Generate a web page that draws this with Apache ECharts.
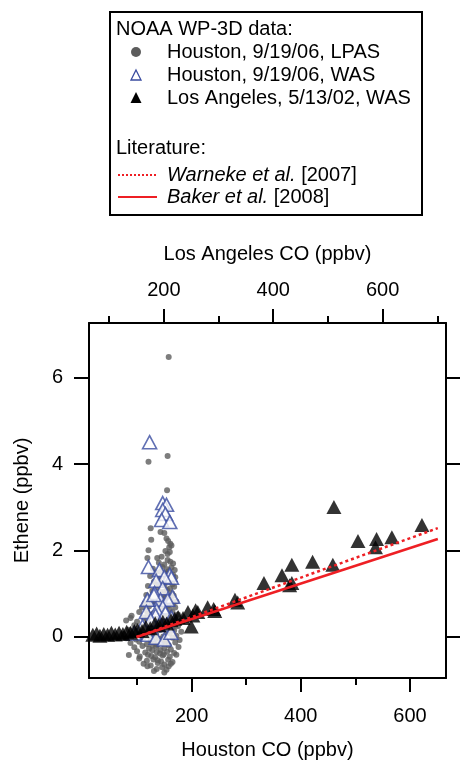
<!DOCTYPE html>
<html><head><meta charset="utf-8">
<script src="https://cdn.jsdelivr.net/npm/echarts@6/dist/echarts.min.js"></script>
<style>html,body{margin:0;padding:0;background:#fff}#c{width:463px;height:761px}</style>
</head><body><div id="c"></div>
<script>
// ---- axis tick values ----
const houstonMajorTicks = [200, 400, 600];
const houstonMinorTicks = [100, 300, 500];
const laMajorTicks = [200, 400, 600];
const laMinorTicks = [100, 300, 500, 700];
const etheneTicks = [0, 2, 4, 6];

// ---- Houston 9/19/06 LPAS (Houston CO ppbv, ethene ppbv) ----
const houstonLPAS = [
[158,6.48],[121,4.06],[156,4.19],[155,3.40],[125,2.52],[126,2.25],[121,2.01],[119,1.83],[143,2.43],[150,2.41],
[154,2.28],[157,2.22],[161,2.16],[159,2.08],[163,2.12],[137,1.83],[145,1.86],[156,1.92],[160,1.97],[152,1.99],
[140,1.72],[150,1.68],[161,1.74],[166,1.70],[156,1.78],
[129,1.58],[146,1.62],[155,1.57],[163,1.61],[169,1.55],
[134,1.49],[151,1.47],[158,1.52],[166,1.44],[143,1.51],
[124,1.41],[141,1.36],[153,1.39],[162,1.33],[170,1.38],
[131,1.28],[146,1.24],[157,1.30],[165,1.22],[137,1.21],
[120,1.18],[138,1.15],[150,1.20],[160,1.12],[168,1.16],
[128,1.07],[143,1.04],[155,1.09],[164,1.01],[150,1.05],
[117,0.97],[135,0.95],[148,0.99],[158,0.92],[167,0.96],
[125,0.88],[140,0.84],[152,0.90],[162,0.86],[172,0.82],[146,0.87],
[114,0.78],[132,0.76],[145,0.80],[157,0.73],[166,0.77],[127,0.81],
[109,0.68],[122,0.71],[138,0.66],[150,0.70],[160,0.64],[170,0.68],[143,0.74],
[104,0.58],[118,0.61],[130,0.55],[145,0.60],[155,0.53],[165,0.57],[175,0.52],[136,0.59],
[90,0.49],[112,0.45],[125,0.50],[138,0.43],[150,0.48],[160,0.42],[170,0.46],[119,0.53],
[80,0.38],[100,0.35],[118,0.40],[132,0.33],[145,0.37],[158,0.31],[168,0.36],[178,0.33],[88,0.44],
[95,0.27],[110,0.24],[125,0.29],[140,0.22],[152,0.26],[165,0.20],[175,0.25],[133,0.27],
[85,0.17],[100,0.14],[115,0.18],[128,0.12],[142,0.16],[155,0.11],[168,0.15],[181,0.12],[148,0.19],
[75,0.07],[92,0.04],[108,0.09],[120,0.02],[135,0.06],[148,0.01],[160,0.08],[172,0.03],[128,0.05],
[80,-0.03],[98,-0.06],[112,-0.01],[125,-0.08],[140,-0.04],[152,-0.09],[165,-0.02],[178,-0.07],[133,-0.05],
[88,-0.14],[104,-0.11],[118,-0.17],[130,-0.12],[145,-0.15],[158,-0.19],[170,-0.13],[137,-0.18],[151,-0.12],
[95,-0.24],[110,-0.21],[122,-0.27],[135,-0.22],[150,-0.26],[162,-0.29],[176,-0.23],[143,-0.30],[128,-0.20],
[100,-0.33],[115,-0.36],[128,-0.31],[142,-0.38],[155,-0.34],[168,-0.37],[136,-0.35],[149,-0.40],
[85,-0.42],[105,-0.45],[120,-0.41],[133,-0.47],[147,-0.43],[160,-0.46],[172,-0.41],[126,-0.44],
[104,-0.50],[118,-0.55],[130,-0.52],[144,-0.57],[157,-0.53],[165,-0.58],[138,-0.54],
[112,-0.62],[125,-0.66],[138,-0.60],[150,-0.64],[162,-0.62],[146,-0.70],
[119,-0.68],[136,-0.74],[154,-0.76],[158,-0.68],
[131,-0.79],[150,-0.82]
];

// ---- Houston 9/19/06 WAS (Houston CO ppbv, ethene ppbv) ----
const houstonWAS = [
[123,4.51],
[147,3.10],[154,3.06],[147,2.94],[152,2.85],[145,2.71],[160,2.66],
[121,1.62],[141,1.55],[160,1.44],[163,1.37],[150,1.39],[135,1.30],
[147,1.13],[132,1.02],[165,0.93],[119,0.86],[143,0.86],[156,0.86],[131,0.97],
[147,0.69],[117,0.58],[136,0.62],[152,0.56],[134,0.50],[163,0.45],[125,0.40],[141,0.30],[110,0.25],[155,0.28],
[95,0.08],[120,0.05],[135,-0.02],[150,-0.06],[162,0.10]
];

// ---- Los Angeles 5/13/02 WAS (LA CO ppbv, ethene ppbv) ----
const laWAS = [
[70,0.05],[77,0.08],[83,0.03],[90,0.07],[97,0.05],[104,0.10],[111,0.06],[118,0.10],[125,0.07],[132,0.12],
[139,0.10],[146,0.14],[152,0.16],[160,0.14],[167,0.23],[175,0.20],[184,0.32],[191,0.27],[198,0.35],[205,0.31],
[213,0.39],[220,0.42],[226,0.46],[235,0.44],[244,0.58],[250,0.24],[253,0.50],[258,0.62],[262,0.58],[280,0.69],
[291,0.65],[293,0.60],[330,0.86],[335,0.80],[383,1.25],[416,1.43],[430,1.20],[434,1.67],[434,1.25],[472,1.74],
[509,1.67],[511,3.01],[555,2.22],[587,2.08],[589,2.27],[617,2.31],[672,2.59]
];

// ---- Literature emission-ratio lines (LA CO ppbv, ethene ppbv) ----
const warneke2007 = [[150,0],[701,2.52]];
const baker2008 = [[150,0],[701,2.27]];

const FONT = '"Liberation Sans", Arial, sans-serif';
const RED = '#ee1f24';
const BLUE = '#3a4ca0';
const GRAY = '#5c5c5c';

const chart = echarts.init(document.getElementById('c'), null, {renderer: 'canvas'});

const axisLineStyle = {show: true, onZero: false, lineStyle: {color: '#000', width: 2}};
const txt = {color: '#000', fontSize: 20, fontFamily: FONT};

const option = {
  animation: false,
  backgroundColor: '#fff',
  grid: {left: 89, top: 323, width: 357, height: 355, containLabel: false, outerBoundsMode: 'none'},
  xAxis: [
    { type: 'value', position: 'bottom', min: 12, max: 666,
      name: 'Houston CO (ppbv)', nameLocation: 'middle', nameGap: 62, nameTextStyle: txt,
      axisLine: axisLineStyle, splitLine: {show: false},
      axisTick: {show: true, inside: false, length: 14, customValues: houstonMajorTicks, lineStyle: {color: '#000', width: 2}},
      axisLabel: Object.assign({customValues: houstonMajorTicks, margin: 28}, txt) },
    { type: 'value', position: 'top', min: 63, max: 716,
      name: 'Los Angeles CO (ppbv)', nameLocation: 'middle', nameGap: 59, nameTextStyle: txt,
      axisLine: axisLineStyle, splitLine: {show: false},
      axisTick: {show: true, inside: false, length: 14, customValues: laMajorTicks, lineStyle: {color: '#000', width: 2}},
      axisLabel: Object.assign({customValues: laMajorTicks, margin: 23}, txt) },
    { type: 'value', position: 'bottom', min: 12, max: 666,
      axisLine: {show: false, onZero: false}, splitLine: {show: false}, axisLabel: {show: false},
      axisTick: {show: true, inside: false, length: 7, customValues: houstonMinorTicks, lineStyle: {color: '#000', width: 2}} },
    { type: 'value', position: 'top', min: 63, max: 716,
      axisLine: {show: false, onZero: false}, splitLine: {show: false}, axisLabel: {show: false},
      axisTick: {show: true, inside: false, length: 7, customValues: laMinorTicks, lineStyle: {color: '#000', width: 2}} }
  ],
  yAxis: [
    { type: 'value', position: 'left', min: -0.95, max: 7.27,
      name: 'Ethene (ppbv)', nameLocation: 'middle', nameGap: 57, nameTextStyle: txt,
      axisLine: axisLineStyle, splitLine: {show: false},
      axisTick: {show: true, inside: false, length: 15, customValues: etheneTicks, lineStyle: {color: '#000', width: 2}},
      axisLabel: Object.assign({customValues: etheneTicks, margin: 26}, txt) },
    { type: 'value', position: 'right', min: -0.95, max: 7.27,
      axisLine: axisLineStyle, splitLine: {show: false}, axisLabel: {show: false},
      axisTick: {show: true, inside: false, length: 14, customValues: etheneTicks, lineStyle: {color: '#000', width: 2}} }
  ],
  series: [
    { name: 'Houston, 9/19/06, LPAS', type: 'scatter', xAxisIndex: 0, yAxisIndex: 0, data: houstonLPAS,
      symbol: 'circle', symbolSize: 6, itemStyle: {color: GRAY} },
    { name: 'Houston, 9/19/06, WAS', type: 'scatter', xAxisIndex: 0, yAxisIndex: 0, data: houstonWAS,
      symbol: 'triangle', symbolSize: [14, 13], itemStyle: {color: '#fff', borderColor: BLUE, borderWidth: 1.6} },
    { name: 'Los Angeles, 5/13/02, WAS', type: 'scatter', xAxisIndex: 1, yAxisIndex: 0, data: laWAS,
      symbol: 'triangle', symbolSize: [15, 14], itemStyle: {color: '#000'} },
    { name: 'Warneke et al. [2007]', type: 'line', xAxisIndex: 1, yAxisIndex: 0, data: warneke2007,
      showSymbol: false, symbol: 'none', lineStyle: {color: RED, width: 2.5, type: [3, 3]}, z: 5 },
    { name: 'Baker et al. [2008]', type: 'line', xAxisIndex: 1, yAxisIndex: 0, data: baker2008,
      showSymbol: false, symbol: 'none', lineStyle: {color: RED, width: 2.5}, z: 5 }
  ],
  graphic: [
    { type: 'rect', left: 109, top: 11, shape: {x: 0, y: 0, width: 312, height: 203},
      style: {fill: '#fff', stroke: '#000', lineWidth: 2}, z: 10 },
    { type: 'text', x: 116, y: 29, style: {text: 'NOAA WP-3D data:', font: '20px ' + FONT, fill: '#000', verticalAlign: 'middle'}, z: 11 },
    { type: 'circle', shape: {cx: 136, cy: 52, r: 5}, style: {fill: GRAY}, z: 11 },
    { type: 'text', x: 167, y: 52, style: {text: 'Houston, 9/19/06, LPAS', font: '20px ' + FONT, fill: '#000', verticalAlign: 'middle'}, z: 11 },
    { type: 'polygon', shape: {points: [[136, 70], [141, 80], [131, 80]]}, style: {fill: '#fff', stroke: BLUE, lineWidth: 1.3}, z: 11 },
    { type: 'text', x: 167, y: 75, style: {text: 'Houston, 9/19/06, WAS', font: '20px ' + FONT, fill: '#000', verticalAlign: 'middle'}, z: 11 },
    { type: 'polygon', shape: {points: [[136, 92], [141.5, 103], [130.5, 103]]}, style: {fill: '#000'}, z: 11 },
    { type: 'text', x: 167, y: 98, style: {text: 'Los Angeles, 5/13/02, WAS', font: '20px ' + FONT, fill: '#000', verticalAlign: 'middle'}, z: 11 },
    { type: 'text', x: 116, y: 148, style: {text: 'Literature:', font: '20px ' + FONT, fill: '#000', verticalAlign: 'middle'}, z: 11 },
    { type: 'line', shape: {x1: 118, y1: 175, x2: 157, y2: 175}, style: {stroke: RED, lineWidth: 2, lineDash: [2, 2]}, z: 11 },
    { type: 'text', x: 167, y: 175, style: {text: '{i|Warneke et al.} [2007]', font: '20px ' + FONT, fill: '#000', verticalAlign: 'middle',
        rich: {i: {fontStyle: 'italic', fontSize: 20, fontFamily: FONT, fill: '#000'}}}, z: 11 },
    { type: 'line', shape: {x1: 118, y1: 197, x2: 157, y2: 197}, style: {stroke: RED, lineWidth: 2}, z: 11 },
    { type: 'text', x: 167, y: 197, style: {text: '{i|Baker et al.} [2008]', font: '20px ' + FONT, fill: '#000', verticalAlign: 'middle',
        rich: {i: {fontStyle: 'italic', fontSize: 20, fontFamily: FONT, fill: '#000'}}}, z: 11 }
  ]
};
chart.setOption(option);
</script>
</body></html>
